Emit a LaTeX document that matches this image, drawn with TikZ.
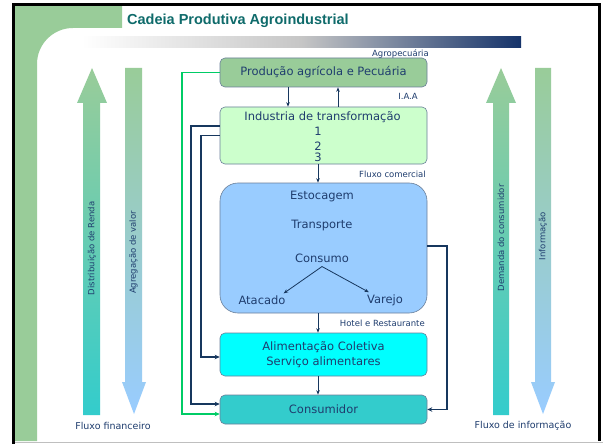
\documentclass[tikz,border=0pt]{standalone}
\usepackage{fontspec}
\setmainfont{DejaVu Sans}
\newfontfamily\titlefont{Liberation Sans}
\usetikzlibrary{arrows.meta}
\definecolor{txt}{HTML}{1F3D6E}
\definecolor{navy}{HTML}{17375E}
\definecolor{bord}{HTML}{6A7F99}
\definecolor{grn}{HTML}{99CC99}
\definecolor{teal}{HTML}{33CCCC}
\definecolor{lblue}{HTML}{99CCFF}
\definecolor{lgrn}{HTML}{CCFFCC}
\definecolor{cyanb}{HTML}{00FFFF}
\definecolor{titlec}{HTML}{0F6B6B}
\definecolor{barnavy}{HTML}{15336A}
\definecolor{brightg}{HTML}{00CC66}
\tikzset{
  box/.style={draw=bord, line width=0.6pt, rounded corners=5pt, minimum width=207pt, inner sep=0pt, text=txt, font=\fontsize{11.5}{14}\selectfont, align=center},
  btxt/.style={text=txt, font=\fontsize{11.5}{14}\selectfont, inner sep=2pt},
  small/.style={text=txt, font=\fontsize{8.5}{10}\selectfont, inner sep=0pt},
  vlab/.style={text=txt, font=\fontsize{8.5}{10}\selectfont, inner sep=0pt, rotate=90},
  flux/.style={text=txt, font=\fontsize{9.5}{11}\selectfont, inner sep=0pt},
  conn/.style={navy, line width=0.8pt, -{Stealth[length=4.5pt,width=3.5pt]}},
  thick conn/.style={navy, line width=1.8pt, -{Stealth[length=5pt,width=4.5pt]}},
  gconn/.style={brightg, line width=1.8pt, -{Stealth[length=5pt,width=4.5pt]}},
}
\begin{document}
\begin{tikzpicture}[x=1pt,y=-1pt]
\useasboundingbox (0,0) rectangle (603,444);
\fill[white] (0,0) rectangle (603,444);
% decoration
\fill[grn] (15,5) -- (122,5) -- (122,28) -- (73,28) .. controls (53.1,28) and (37,44.1) .. (37,64) -- (37,441) -- (15,441) -- cycle;
\draw[line width=2.5pt] (13.5,444) -- (13.5,4.5) -- (599.5,4.5) -- (599.5,441);
\draw[gray!50, line width=1.2pt] (15,442.5) -- (603,442.5);
\shade[left color=white, right color=barnavy, middle color=gray!45] (82,37) rectangle (521,48);
\node[anchor=west, inner sep=0pt, text=titlec, font=\titlefont\bfseries\fontsize{14.5}{16}\selectfont] (title) at (127,21) {Cadeia Produtiva Agroindustrial};

% big gradient arrows
\shade[top color=grn, bottom color=teal] (83,415) -- (83,103) -- (77,103) -- (92,68) -- (107,103) -- (100,103) -- (100,415) -- cycle;
\shade[top color=grn, bottom color=lblue] (125,68) -- (142,68) -- (142,382) -- (146,382) -- (134,414) -- (122,382) -- (125,382) -- cycle;
\shade[top color=grn, bottom color=teal] (493,415) -- (493,103) -- (486,103) -- (501,68) -- (516,103) -- (509,103) -- (509,415) -- cycle;
\shade[top color=grn, bottom color=lblue] (535,68) -- (551,68) -- (551,382) -- (555,382) -- (543,414) -- (531,382) -- (535,382) -- cycle;
\node[vlab] (dist_r) at (92,248.5) {Distribuição de Renda};
\node[vlab] (agreg) at (133.5,252.5) {Agregação de valor};
\node[vlab] (dem) at (501,238) {Demanda do consumidor};
\node[vlab] (info) at (543,236) {Informação};
\node[flux] (ff) at (113,426) {Fluxo financeiro};
\node[flux] (fi) at (523,426) {Fluxo de informação};

% boxes
\node[box, fill=grn, minimum height=29pt] (prod) at (323.5,72.5) {Produção agrícola e Pecuária};
\node[box, fill=lgrn, minimum height=57pt] (ind) at (323.5,135.5) {};
\node[btxt] (indt) at (322.5,117) {Industria de transformação};
\node[btxt] (n1) at (318,131) {1};
\node[btxt] (n2) at (318,146) {2};
\node[btxt] (n3) at (318,157) {3};
\node[box, fill=lblue, minimum height=130pt, rounded corners=18pt] (distb) at (323.5,248) {};
\node[btxt] (est) at (322,197) {Estocagem};
\node[btxt] (tra) at (322,226) {Transporte};
\node[btxt] (cons) at (322,258) {Consumo};
\node[btxt] (atac) at (262,300) {Atacado};
\node[btxt] (var) at (385,300) {Varejo};
\node[box, fill=cyanb, minimum height=43pt, font=\fontsize{11.5}{15}\selectfont] (alim) at (323.5,354.5) {Alimentação Coletiva\\Serviço alimentares};
\node[box, fill=teal, minimum height=29pt] (consu) at (323.5,409.5) {Consumidor};

% small labels
\node[small, anchor=south east] (agro) at (429,58) {Agropecuária};
\node[small] (iaa) at (408,96) {I.A.A};
\node[small, anchor=east] (fc) at (426,174) {Fluxo comercial};
\node[small, anchor=east] (hr) at (425,323) {Hotel e Restaurante};

% connectors
\draw[conn] ([xshift=-35.5pt]prod.south) -- ([xshift=-35.5pt]ind.north);
\draw[conn] ([xshift=14.5pt]ind.north) -- ([xshift=14.5pt]prod.south);
\draw[conn] ([xshift=-5.5pt]ind.south) -- ([xshift=-5.5pt]distb.north);
\draw[conn] ([xshift=-5.5pt]distb.south) -- ([xshift=-5.5pt]alim.north);
\draw[conn] ([xshift=-5.5pt]alim.south) -- ([xshift=-5.5pt]consu.north);
\draw[conn] ([yshift=-2pt]cons.south) -- ([xshift=-4pt]atac.north east);
\draw[conn] ([yshift=-2pt]cons.south) -- ([xshift=4pt]var.north west);
\draw[thick conn] ([yshift=2pt]distb.east) -- ++(20,0) |- (consu.east);
\draw[gconn] (prod.west) -- ++(-38,0) |- ([yshift=-4.5pt]consu.west);
\draw[thick conn] ([yshift=9.5pt]ind.west) -- ++(-29,0) |- ([yshift=5.5pt]consu.west);
\draw[thick conn] (ind.west) -- ++(-19,0) |- ([yshift=-2.5pt]alim.west);
\end{tikzpicture}
\end{document}
